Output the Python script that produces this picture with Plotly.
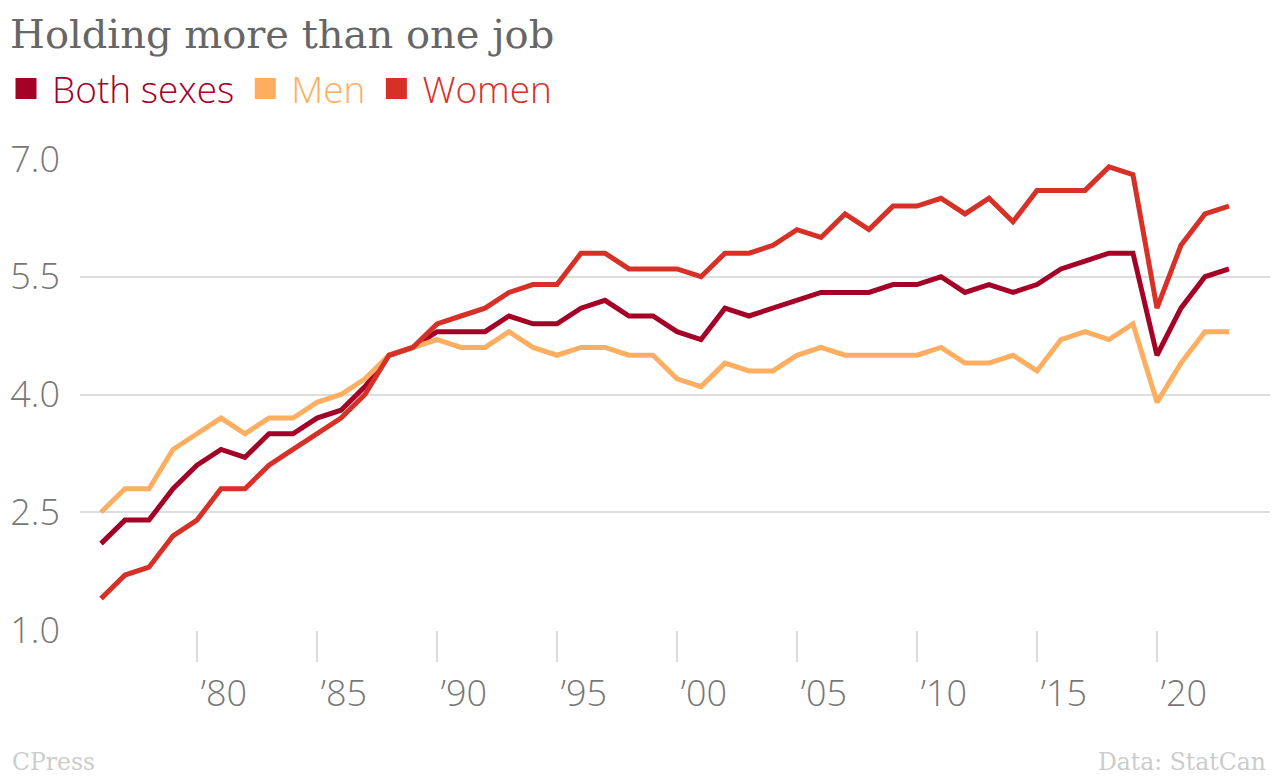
import plotly.graph_objects as go

years = list(range(1976, 2024))
both = [2.1, 2.4, 2.4, 2.8, 3.1, 3.3, 3.2, 3.5, 3.5, 3.7, 3.8, 4.1, 4.5, 4.6, 4.8, 4.8,
        4.8, 5.0, 4.9, 4.9, 5.1, 5.2, 5.0, 5.0, 4.8, 4.7, 5.1, 5.0, 5.1, 5.2, 5.3, 5.3,
        5.3, 5.4, 5.4, 5.5, 5.3, 5.4, 5.3, 5.4, 5.6, 5.7, 5.8, 5.8, 4.5, 5.1, 5.5, 5.6]
men = [2.5, 2.8, 2.8, 3.3, 3.5, 3.7, 3.5, 3.7, 3.7, 3.9, 4.0, 4.2, 4.5, 4.6, 4.7, 4.6,
       4.6, 4.8, 4.6, 4.5, 4.6, 4.6, 4.5, 4.5, 4.2, 4.1, 4.4, 4.3, 4.3, 4.5, 4.6, 4.5,
       4.5, 4.5, 4.5, 4.6, 4.4, 4.4, 4.5, 4.3, 4.7, 4.8, 4.7, 4.9, 3.9, 4.4, 4.8, 4.8]
women = [1.4, 1.7, 1.8, 2.2, 2.4, 2.8, 2.8, 3.1, 3.3, 3.5, 3.7, 4.0, 4.5, 4.6, 4.9, 5.0,
         5.1, 5.3, 5.4, 5.4, 5.8, 5.8, 5.6, 5.6, 5.6, 5.5, 5.8, 5.8, 5.9, 6.1, 6.0, 6.3,
         6.1, 6.4, 6.4, 6.5, 6.3, 6.5, 6.2, 6.6, 6.6, 6.6, 6.9, 6.8, 5.1, 5.9, 6.3, 6.4]

series_names = ["Both sexes", "Men", "Women"]
series_colors = ["#a50026", "#fdae61", "#d73027"]
series_values = [both, men, women]

x_tickvals = [1980, 1985, 1990, 1995, 2000, 2005, 2010, 2015, 2020]
x_ticktext = ["\u201980", "\u201985", "\u201990", "\u201995", "\u201900",
              "\u201905", "\u201910", "\u201915", "\u201920"]
y_tickvals = [1.0, 2.5, 4.0, 5.5, 7.0]
y_ticktext = ["1.0", "2.5", "4.0", "5.5", "7.0"]

fig = go.Figure()
for name, color, vals in zip(series_names, series_colors, series_values):
    fig.add_trace(go.Scatter(x=years, y=vals, mode="lines", name=name,
                             line=dict(color=color, width=5), showlegend=False,
                             hoverinfo="x+y"))
for name, color in zip(series_names, series_colors):
    fig.add_trace(go.Scatter(x=[None], y=[None], mode="markers",
                             name=f"<span style='color:{color}'>{name}</span>",
                             marker=dict(symbol="square", size=16, color=color,
                                         line=dict(color=color, width=5))))

tick_font = dict(family="Open Sans", size=36, color="#777777", weight=300)

fig.update_layout(
    width=1280, height=776,
    margin=dict(l=80, r=10, t=159, b=146),
    paper_bgcolor="white", plot_bgcolor="white",
    title=dict(text="Holding more than one job", xref="container", yref="container",
               x=10 / 1280, y=1 - 20 / 776, xanchor="left", yanchor="top",
               font=dict(family="DejaVu Serif", size=40, color="#666666")),
    legend=dict(orientation="h", xref="container", yref="container",
                x=0, y=1 - 58 / 776, xanchor="left", yanchor="top",
                font=dict(family="Open Sans", size=37, weight=300),
                itemwidth=42, itemsizing="trace", tracegroupgap=0,
                bgcolor="rgba(0,0,0,0)"),
    xaxis=dict(range=[1975.125, 2024.71], tickvals=x_tickvals, ticktext=x_ticktext,
               showgrid=False, zeroline=False, showline=False,
               ticks="outside", ticklen=31, tickwidth=1.5, tickcolor="#dddddd",
               tickfont=tick_font, ticklabelshift=27, ticklabelstandoff=1),
    yaxis=dict(range=[1.0, 7.0], tickvals=y_tickvals, ticktext=y_ticktext,
               showgrid=True, gridcolor="#dddddd", gridwidth=1.5,
               zeroline=False, showline=False, ticks="",
               tickfont=tick_font, ticklabelstandoff=19),
    annotations=[
        dict(text="CPress", xref="paper", yref="paper", x=-70 / 1190, y=(630 - 762) / 471,
             xanchor="left", yanchor="middle", showarrow=False,
             font=dict(family="DejaVu Serif", size=23.5, color="#cccccc")),
        dict(text="Data: StatCan", xref="paper", yref="paper", x=1 - 2 / 1190,
             y=(630 - 762) / 471, xanchor="right", yanchor="middle", showarrow=False,
             font=dict(family="DejaVu Serif", size=23.5, color="#cccccc")),
    ],
)

fig.write_html("out.html", config={"displayModeBar": False},
               post_script="document.body.style.margin='0';")
